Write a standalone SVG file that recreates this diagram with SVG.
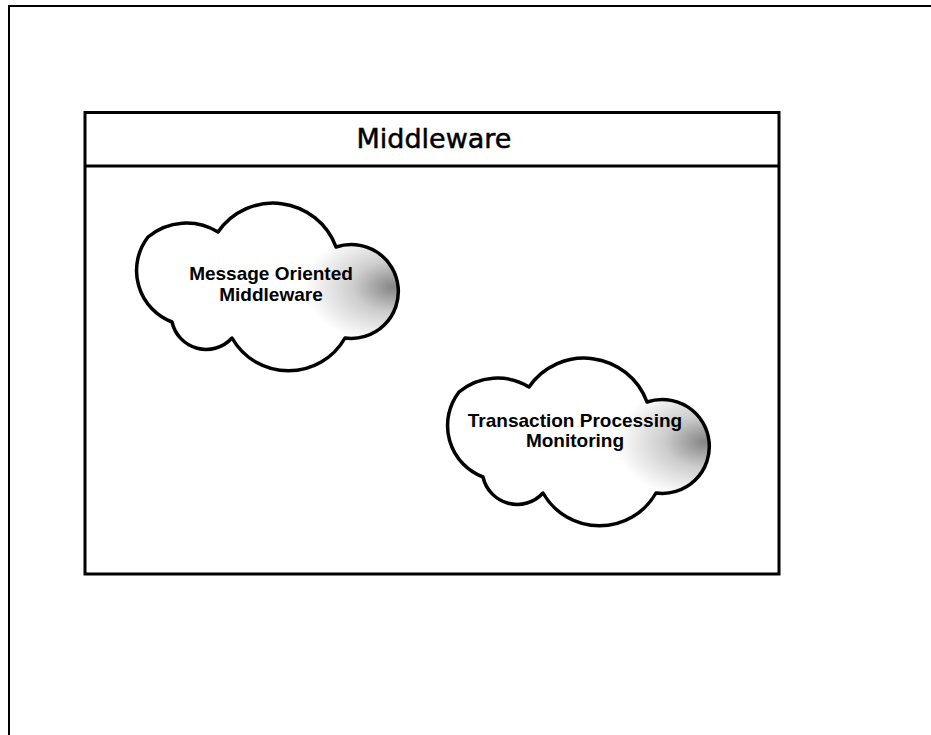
<svg xmlns="http://www.w3.org/2000/svg" xmlns:xlink="http://www.w3.org/1999/xlink" width="931" height="735" viewBox="0 0 931 735">
  <style>
    .frame { fill: none; stroke: #000; stroke-width: 2; }
    .box { fill: #fff; stroke: #000; stroke-width: 3; }
    .cloud { fill: url(#cloudShade); stroke: #000; stroke-width: 3.5; stroke-linejoin: round; }
    .title { font-family: "DejaVu Sans", Verdana, sans-serif; font-size: 27px; fill: #000; stroke: #000; stroke-width: 0.5; text-anchor: middle; }
    .label { font-family: "Liberation Sans", Arial, sans-serif; font-size: 19px; font-weight: bold; fill: #000; text-anchor: middle; }
  </style>
  <defs>
    <radialGradient id="cloudShade" cx="0.98" cy="0.5" r="0.34" fx="0.98" fy="0.5">
      <stop offset="0" stop-color="#858585"/>
      <stop offset="0.45" stop-color="#cdcdcd"/>
      <stop offset="1" stop-color="#ffffff"/>
    </radialGradient>
    <!-- cloud outline: six lobes -->
    <path id="cloudShape" d="M172,322 A55,55 0 0 1 148,237 A60,60 0 0 1 218,232 A67,67 0 0 1 336,247 A47,47 0 1 1 345,338 A65,65 0 0 1 232,338 A35,35 0 0 1 172,322 Z"/>
  </defs>

  <rect width="931" height="735" fill="#fff"/>

  <!-- page frame (top and left edges) -->
  <path class="frame" d="M9,735 V6 H931"/>

  <!-- container -->
  <g id="middleware">
    <rect class="box" x="85" y="112.5" width="694" height="461.5"/>
    <line x1="85" y1="166" x2="779" y2="166" stroke="#000" stroke-width="3"/>
    <text class="title" x="434" y="148">Middleware</text>
  </g>

  <g id="mom">
    <use xlink:href="#cloudShape" class="cloud"/>
    <text class="label" x="271" y="280">Message Oriented</text>
    <text class="label" x="271" y="301">Middleware</text>
  </g>

  <g id="tpm">
    <use xlink:href="#cloudShape" class="cloud" transform="translate(311,155)"/>
    <text class="label" x="575" y="427">Transaction Processing</text>
    <text class="label" x="575" y="447">Monitoring</text>
  </g>

  <g id="connectors"></g>
</svg>
